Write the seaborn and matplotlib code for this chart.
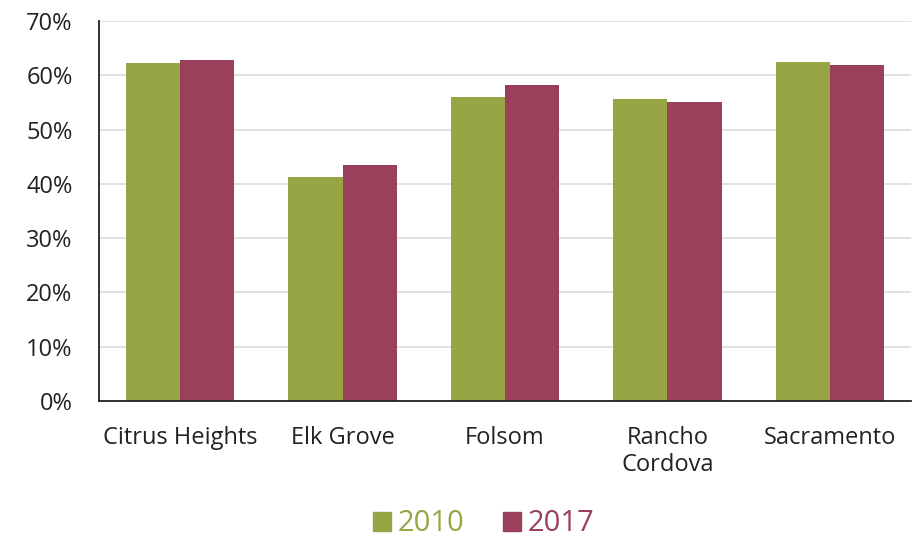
import matplotlib
matplotlib.use("Agg")
import matplotlib.pyplot as plt
import seaborn as sns
import pandas as pd
from matplotlib.patches import Patch

cities = ["Citrus Heights", "Elk Grove", "Folsom", "Rancho\nCordova", "Sacramento"]
years = ["2010", "2017"]
vals_2010 = [62.3, 41.3, 56.0, 55.7, 62.5]
vals_2017 = [62.8, 43.5, 58.2, 55.0, 61.9]
yticks = [0, 10, 20, 30, 40, 50, 60, 70]
colors = ["#97A544", "#9A405A"]

df = pd.DataFrame({
    "city": cities * 2,
    "year": ["2010"] * len(cities) + ["2017"] * len(cities),
    "value": vals_2010 + vals_2017,
})

sns.set_theme(style="white")
plt.rcParams['font.family'] = ['Open Sans', 'DejaVu Sans']

fig = plt.figure(figsize=(9.16, 5.39), dpi=100)
ax = fig.add_axes([0.108, 0.256, 0.8865, 0.705])
sns.barplot(data=df, x="city", y="value", hue="year", palette=colors,
            width=0.667, ax=ax, legend=False, saturation=1, linewidth=0)

ax.set_ylim(0, 70)
ax.set_yticks(yticks)
ax.set_yticklabels([f"{t}%" for t in yticks], fontsize=17, color="#222222")
ax.tick_params(axis="x", labelsize=17, labelcolor="#222222", pad=18, length=0)
ax.tick_params(axis="y", length=0, pad=19)
for lab in ax.get_xticklabels():
    lab.set_linespacing(1.15)
ax.set_xlabel("")
ax.set_ylabel("")
ax.yaxis.grid(True, color="#dcdcdc", linewidth=1.2)
ax.set_axisbelow(True)
for s in ["top", "right"]:
    ax.spines[s].set_visible(False)
ax.spines["left"].set_color("#222222")
ax.spines["bottom"].set_color("#222222")
ax.spines["left"].set_linewidth(1.3)
ax.spines["bottom"].set_linewidth(1.3)
ax.set_xlim(-0.5, 4.5)

handles = [Patch(color=c, label=y) for c, y in zip(colors, years)]
leg = fig.legend(handles=handles, loc="center", bbox_to_anchor=(0.528, 0.028),
                 ncol=2, frameon=False, fontsize=21, handlelength=0.62,
                 handleheight=0.62, handletextpad=0.25, columnspacing=1.3)
for t, c in zip(leg.get_texts(), colors):
    t.set_color(c)

fig.savefig("out.png", dpi=100)
